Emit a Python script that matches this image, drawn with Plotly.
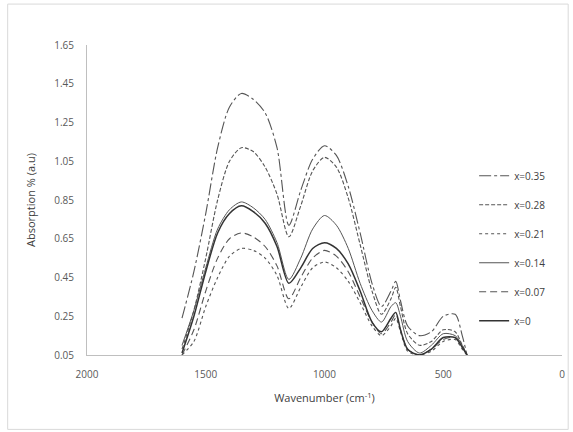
import plotly.graph_objects as go

wavenumber = [1600, 1550, 1500, 1450, 1400, 1350, 1300, 1250, 1200, 1150, 1100, 1050, 1000,
              950, 900, 850, 800, 760, 720, 700, 680, 650, 600, 550, 500, 450, 420, 400]

x035 = [0.24, 0.48, 0.78, 1.12, 1.33, 1.40, 1.37, 1.30, 1.12, 0.72, 0.90, 1.06, 1.13,
        1.08, 0.92, 0.68, 0.42, 0.30, 0.38, 0.43, 0.33, 0.20, 0.15, 0.17, 0.25, 0.26, 0.15, 0.05]
x028 = [0.08, 0.28, 0.55, 0.85, 1.05, 1.12, 1.10, 1.02, 0.88, 0.66, 0.82, 1.00, 1.07,
        1.02, 0.86, 0.62, 0.38, 0.26, 0.34, 0.40, 0.30, 0.16, 0.10, 0.12, 0.18, 0.17, 0.10, 0.05]
x021 = [0.05, 0.12, 0.30, 0.45, 0.56, 0.60, 0.59, 0.55, 0.46, 0.29, 0.40, 0.50, 0.53,
        0.50, 0.43, 0.32, 0.20, 0.15, 0.20, 0.24, 0.17, 0.07, 0.05, 0.07, 0.12, 0.13, 0.08, 0.05]
x014 = [0.10, 0.28, 0.50, 0.70, 0.80, 0.84, 0.81, 0.75, 0.63, 0.44, 0.55, 0.70, 0.77,
        0.72, 0.60, 0.42, 0.28, 0.22, 0.30, 0.32, 0.25, 0.12, 0.06, 0.10, 0.16, 0.15, 0.10, 0.05]
x007 = [0.05, 0.18, 0.38, 0.55, 0.65, 0.68, 0.66, 0.61, 0.51, 0.34, 0.45, 0.55, 0.59,
        0.56, 0.48, 0.35, 0.22, 0.16, 0.22, 0.26, 0.18, 0.08, 0.05, 0.08, 0.13, 0.14, 0.09, 0.05]
x000 = [0.06, 0.25, 0.48, 0.68, 0.78, 0.82, 0.79, 0.73, 0.61, 0.42, 0.50, 0.60, 0.63,
        0.60, 0.52, 0.38, 0.22, 0.17, 0.24, 0.27, 0.18, 0.08, 0.05, 0.08, 0.14, 0.14, 0.09, 0.05]

series_names = ["x=0.35", "x=0.28", "x=0.21", "x=0.14", "x=0.07", "x=0"]
series_values = [x035, x028, x021, x014, x007, x000]
dashes = ["12px,3px,3px,3px", "4px,2px", "dot", "solid", "7px,4px", "solid"]
widths = [1.1, 1.1, 1.1, 1.0, 1.1, 1.5]
colors = ["#555555", "#555555", "#555555", "#555555", "#555555", "#333333"]

fig = go.Figure()
for i, (name, vals) in enumerate(zip(series_names, series_values)):
    fig.add_trace(go.Scatter(
        x=wavenumber, y=vals, name=name, mode="lines",
        line=dict(color=colors[i], width=widths[i], dash=dashes[i], shape="spline", smoothing=0.8),
        legendgroup=name,
    ))

axis_font = dict(family="Open Sans, Liberation Sans, sans-serif", size=10, color="#595959")
fig.update_layout(
    width=573, height=432,
    margin=dict(l=87, r=8, t=45, b=77),
    paper_bgcolor="white", plot_bgcolor="white",
    font=dict(family="Open Sans, Liberation Sans, sans-serif", size=10, color="#595959"),
    xaxis=dict(range=[2000, 0], dtick=500, tick0=0, showgrid=False, zeroline=False,
               showline=True, linecolor="#BFBFBF", linewidth=1, ticks="",
               tickfont=axis_font, ticklabelstandoff=10,
               title=dict(text="Wavenumber (cm<sup>-1</sup>)", font=dict(size=11, color="#404040"), standoff=14)),
    yaxis=dict(range=[0.05, 1.65], dtick=0.2, tick0=0.05, tickformat=".2f", showgrid=False,
               zeroline=False, showline=True, linecolor="#BFBFBF", linewidth=1, ticks="",
               tickfont=axis_font, ticklabelstandoff=10,
               title=dict(text="Absorption % (a.u)", font=dict(size=11, color="#404040"), standoff=16)),
    legend=dict(x=0.815, y=0.625, xanchor="left", yanchor="top", bgcolor="rgba(0,0,0,0)",
                font=dict(size=10, color="#404040"), tracegroupgap=10, traceorder="grouped",
                itemwidth=30),
    showlegend=True,
    shapes=[dict(type="rect", xref="paper", yref="paper", x0=-0.167, x1=1.013, y0=-0.24, y1=1.132,
                 line=dict(color="#D9D9D9", width=1), fillcolor="rgba(0,0,0,0)", layer="below")],
)

fig.write_html("out.html")
